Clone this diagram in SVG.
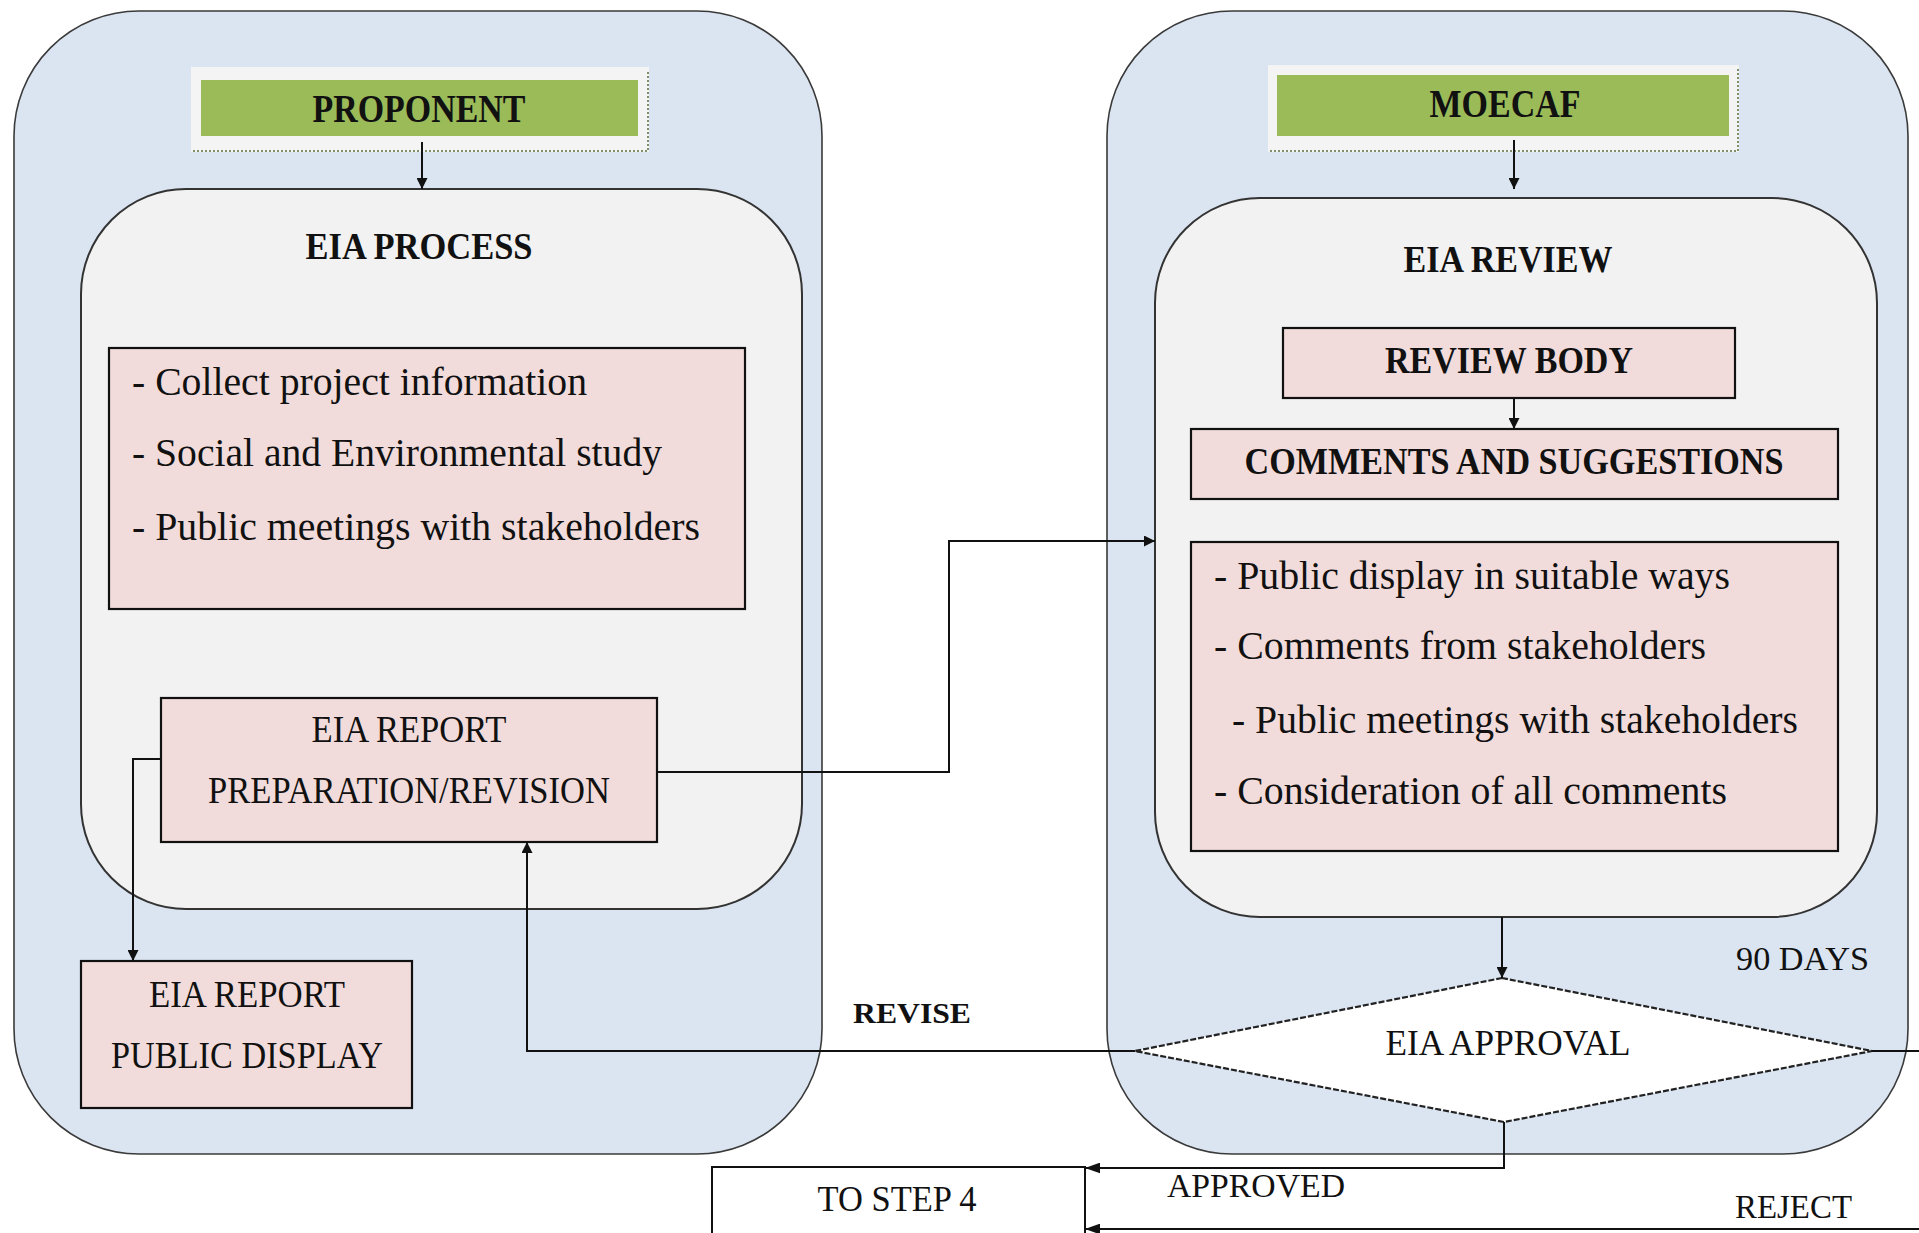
<svg xmlns="http://www.w3.org/2000/svg" width="1919" height="1233" viewBox="0 0 1919 1233">
<style>
.outer{fill:#DBE5F1;stroke:#3a3a3a;stroke-width:1.6}
.inner{fill:#F2F2F2;stroke:#333;stroke-width:2}
.pink{fill:#F2DCDB;stroke:#111;stroke-width:2.2}
.glow{fill:#F4F4F4}
.green{fill:#9BBB59}
.dots{stroke:#7f8f6a;stroke-width:2;stroke-dasharray:2 2;fill:none}
.b{font-family:"Liberation Serif",serif;font-weight:bold;fill:#111}
.r{font-family:"Liberation Serif",serif;fill:#111}
.c{text-anchor:middle}
.ln{fill:none;stroke:#111;stroke-width:2}
</style>
<defs>
<marker id="ah" viewBox="0 0 10 10" refX="10" refY="5" markerWidth="12" markerHeight="11" markerUnits="userSpaceOnUse" orient="auto"><path d="M0,0 L10,5 L0,10 z" fill="#111"/></marker>
<marker id="ahL" viewBox="0 0 14 10" refX="14" refY="5" markerWidth="15" markerHeight="11" markerUnits="userSpaceOnUse" orient="auto"><path d="M0,0 L14,5 L0,10 z" fill="#111"/></marker>
</defs>

<g id="left-lane">
<rect class="outer" x="14" y="11" width="808" height="1143" rx="125" ry="125"/>
</g>
<g id="right-lane">
<rect class="outer" x="1107" y="11" width="801" height="1143" rx="125" ry="125"/>
</g>

<g id="proponent">
<rect class="glow" x="191" y="67" width="458" height="85"/>
<path class="dots" d="M193,151 H648 V70"/>
<rect class="green" x="201" y="80" width="437" height="56"/>
<text class="b c" x="419" y="122" font-size="39" textLength="213" lengthAdjust="spacingAndGlyphs">PROPONENT</text>
</g>

<g id="eia-process">
<rect class="inner" x="81" y="189" width="721" height="720" rx="105" ry="105"/>
<text class="b c" x="419" y="259" font-size="37" textLength="227" lengthAdjust="spacingAndGlyphs">EIA PROCESS</text>
</g>

<g id="process-tasks">
<rect class="pink" x="109" y="348" width="636" height="261"/>
<text class="r" x="132" y="395" font-size="41" textLength="455" lengthAdjust="spacingAndGlyphs">- Collect project information</text>
<text class="r" x="132" y="466" font-size="41" textLength="530" lengthAdjust="spacingAndGlyphs">- Social and Environmental study</text>
<text class="r" x="132" y="540" font-size="41" textLength="568" lengthAdjust="spacingAndGlyphs">- Public meetings with stakeholders</text>
</g>

<g id="report-prep">
<rect class="pink" x="161" y="698" width="496" height="144"/>
<text class="r c" x="409" y="742" font-size="37" textLength="195" lengthAdjust="spacingAndGlyphs">EIA REPORT</text>
<text class="r c" x="409" y="803" font-size="37" textLength="402" lengthAdjust="spacingAndGlyphs">PREPARATION/REVISION</text>
</g>

<g id="report-display">
<rect class="pink" x="81" y="961" width="331" height="147"/>
<text class="r c" x="247" y="1007" font-size="37" textLength="196" lengthAdjust="spacingAndGlyphs">EIA REPORT</text>
<text class="r c" x="247" y="1068" font-size="37" textLength="272" lengthAdjust="spacingAndGlyphs">PUBLIC DISPLAY</text>
</g>

<g id="moecaf">
<rect class="glow" x="1268" y="65" width="471" height="87"/>
<path class="dots" d="M1270,151 H1738 V68"/>
<rect class="green" x="1277" y="75" width="452" height="61"/>
<text class="b c" x="1505" y="117" font-size="39" textLength="151" lengthAdjust="spacingAndGlyphs">MOECAF</text>
</g>

<g id="eia-review">
<rect class="inner" x="1155" y="198" width="722" height="719" rx="105" ry="105"/>
<text class="b c" x="1508" y="272" font-size="37" textLength="209" lengthAdjust="spacingAndGlyphs">EIA REVIEW</text>
</g>

<g id="review-body">
<rect class="pink" x="1283" y="328" width="452" height="70"/>
<text class="b c" x="1509" y="373" font-size="37" textLength="248" lengthAdjust="spacingAndGlyphs">REVIEW BODY</text>
</g>

<g id="comments">
<rect class="pink" x="1191" y="429" width="647" height="70"/>
<text class="b c" x="1514" y="474" font-size="37" textLength="539" lengthAdjust="spacingAndGlyphs">COMMENTS AND SUGGESTIONS</text>
</g>

<g id="review-tasks">
<rect class="pink" x="1191" y="542" width="647" height="309"/>
<text class="r" x="1214" y="589" font-size="41" textLength="516" lengthAdjust="spacingAndGlyphs">- Public display in suitable ways</text>
<text class="r" x="1214" y="659" font-size="41" textLength="492" lengthAdjust="spacingAndGlyphs">- Comments from stakeholders</text>
<text class="r" x="1232" y="733" font-size="41" textLength="566" lengthAdjust="spacingAndGlyphs">- Public meetings with stakeholders</text>
<text class="r" x="1214" y="804" font-size="41" textLength="513" lengthAdjust="spacingAndGlyphs">- Consideration of all comments</text>
</g>

<g id="approval">
<polygon points="1502,978 1872,1051 1504,1122 1135,1051" fill="#fff" stroke="#222" stroke-width="2.2" stroke-dasharray="6 2"/>
<text class="r c" x="1508" y="1055" font-size="36" textLength="245" lengthAdjust="spacingAndGlyphs">EIA APPROVAL</text>
</g>

<g id="to-step-4">
<rect x="712" y="1167" width="373" height="120" fill="#fff" stroke="#111" stroke-width="2"/>
<text class="r c" x="897" y="1211" font-size="36" textLength="159" lengthAdjust="spacingAndGlyphs">TO STEP 4</text>
</g>

<g id="connectors">
<line class="ln" x1="422" y1="142" x2="422" y2="189" marker-end="url(#ah)"/>
<line class="ln" x1="1514" y1="140" x2="1514" y2="189" marker-end="url(#ah)"/>
<line class="ln" x1="1514" y1="398" x2="1514" y2="429" marker-end="url(#ah)"/>
<polyline class="ln" points="161,759 133,759 133,961" marker-end="url(#ah)"/>
<polyline class="ln" points="657,772 949,772 949,541 1155,541" marker-end="url(#ah)"/>
<polyline class="ln" points="1135,1051 527,1051 527,842" marker-end="url(#ah)"/>
<line class="ln" x1="1872" y1="1051" x2="1919" y2="1051"/>
<line class="ln" x1="1502" y1="917" x2="1502" y2="978" marker-end="url(#ah)"/>
<polyline class="ln" points="1504,1122 1504,1168 1085,1168" marker-end="url(#ahL)"/>
<line class="ln" x1="1919" y1="1229" x2="1085" y2="1229" marker-end="url(#ahL)"/>
</g>

<g id="labels">
<text class="b" x="853" y="1023" font-size="30" textLength="118" lengthAdjust="spacingAndGlyphs">REVISE</text>
<text class="r" x="1736" y="970" font-size="33" textLength="133" lengthAdjust="spacingAndGlyphs">90 DAYS</text>
<text class="r" x="1167" y="1197" font-size="33" textLength="178" lengthAdjust="spacingAndGlyphs">APPROVED</text>
<text class="r" x="1735" y="1218" font-size="33" textLength="117" lengthAdjust="spacingAndGlyphs">REJECT</text>
</g>
</svg>
